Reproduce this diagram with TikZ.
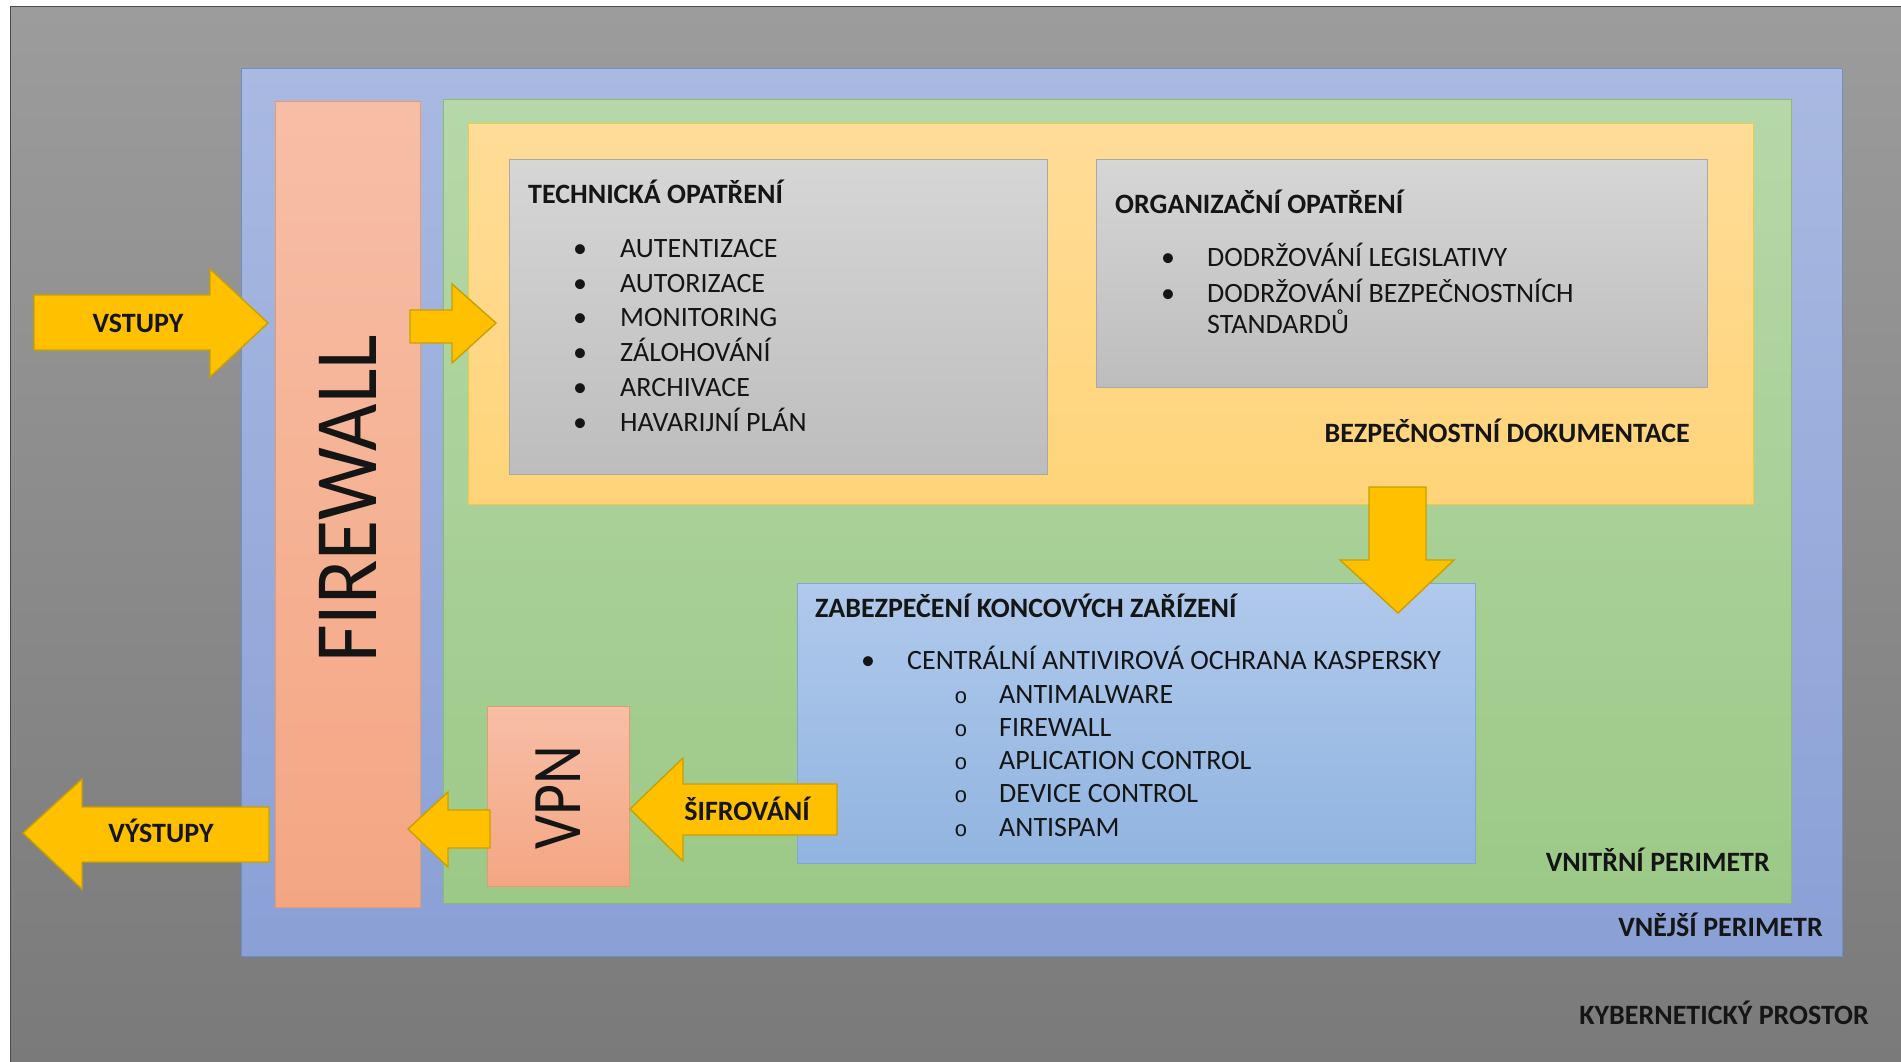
\documentclass[tikz,border=0pt]{standalone}
\usepackage{fontspec}
\setmainfont{Carlito}
\newfontfamily\circfont{Liberation Mono}
\usetikzlibrary{calc}

% palette
\definecolor{bgTop}{HTML}{9C9C9C}
\definecolor{bgBot}{HTML}{7A7A7A}
\definecolor{bgLine}{HTML}{4A4A4A}
\definecolor{blueTop}{HTML}{A9B9E1}
\definecolor{blueBot}{HTML}{8AA0D6}
\definecolor{blueLine}{HTML}{6F8FC9}
\definecolor{fwTop}{HTML}{F7BEA6}
\definecolor{fwBot}{HTML}{F4A683}
\definecolor{fwLine}{HTML}{E59A70}
\definecolor{greenTop}{HTML}{B6D8A9}
\definecolor{greenBot}{HTML}{9CC987}
\definecolor{greenLine}{HTML}{89BC72}
\definecolor{yelTop}{HTML}{FFDC98}
\definecolor{yelBot}{HTML}{FFD479}
\definecolor{yelLine}{HTML}{F5C842}
\definecolor{greyTop}{HTML}{D6D6D6}
\definecolor{greyBot}{HTML}{BDBDBD}
\definecolor{greyLine}{HTML}{A8A8A8}
\definecolor{epTop}{HTML}{B0C9EC}
\definecolor{epBot}{HTML}{91B4E0}
\definecolor{epLine}{HTML}{7FA6D8}
\definecolor{arrowFill}{HTML}{FFC000}
\definecolor{arrowLine}{HTML}{C9A000}
\definecolor{ink}{HTML}{151515}

\tikzset{
  panel/.style={rectangle, inner sep=0pt, anchor=north west, line width=1.2pt},
  blockarrow/.style={fill=arrowFill, draw=arrowLine, line width=1.4pt, line join=miter},
  lbl/.style={font=\fontsize{28}{34}\selectfont, text=ink, inner sep=0pt, anchor=base west},
  ttl/.style={font=\bfseries\fontsize{28}{33}\selectfont, text=ink, inner sep=0pt, anchor=base west},
  dot/.style={font=\fontsize{28}{30}\selectfont, text=ink, inner sep=0pt, anchor=base},
  circ/.style={font=\circfont\fontsize{22}{26}\selectfont, text=ink, inner sep=0pt, anchor=base},
  bigword/.style={font=\fontsize{81}{90}\selectfont, text=ink, inner sep=0pt, rotate=90},
}

\begin{document}
\begin{tikzpicture}[x=1pt, y=-1pt]
\useasboundingbox (0,0) rectangle (1901,1062);
\fill[white] (0,0) rectangle (1901,1062);

% cyber space
\node[panel, minimum width=1891pt, minimum height=1056pt, top color=bgTop, bottom color=bgBot, draw=bgLine] (space) at (10,6) {};

% outer perimeter
\node[panel, minimum width=1601pt, minimum height=888pt, top color=blueTop, bottom color=blueBot, draw=blueLine] (outer) at (241,68) {};

% firewall column
\node[panel, minimum width=145pt, minimum height=806pt, top color=fwTop, bottom color=fwBot, draw=fwLine] (fw) at (275,101) {};

% inner perimeter
\node[panel, minimum width=1348pt, minimum height=804pt, top color=greenTop, bottom color=greenBot, draw=greenLine] (inner) at (443,99) {};

% security documentation
\node[panel, minimum width=1285pt, minimum height=381pt, top color=yelTop, bottom color=yelBot, draw=yelLine] (doc) at (468,123) {};

% technical measures
\node[panel, minimum width=538pt, minimum height=315pt, top color=greyTop, bottom color=greyBot, draw=greyLine] (tech) at (509,159) {};

% organisational measures
\node[panel, minimum width=611pt, minimum height=228pt, top color=greyTop, bottom color=greyBot, draw=greyLine] (org) at (1096,159) {};

% endpoint protection
\node[panel, minimum width=678pt, minimum height=280pt, top color=epTop, bottom color=epBot, draw=epLine] (ep) at (797,583) {};

% VPN block
\node[panel, minimum width=142pt, minimum height=180pt, top color=fwTop, bottom color=fwBot, draw=fwLine] (vpn) at (487,706) {};

% vertical words
\node[bigword] (fwtext) at (fw.center |- 0,499) {\scalebox{1.01}[1.1]{FIREWALL}};
\node[bigword, font=\fontsize{60}{66}\selectfont] (vpntext) at (vpn.center |- 0,798) {\scalebox{1}[1.16]{VPN}};

% block arrows
% inputs
\draw[blockarrow] (34,295) -- (210,295) -- (210,269) -- (268,323) -- (210,377) -- (210,350) -- (34,350) -- cycle;
% firewall -> technical measures
\draw[blockarrow] (410,310) -- (452,310) -- (452,284) -- (496,323) -- (452,363) -- (452,343) -- (410,343) -- cycle;
% documentation -> endpoints
\draw[blockarrow] (1369,487) -- (1426,487) -- (1426,560) -- (1454,560) -- (1398,613) -- (1340,560) -- (1369,560) -- cycle;
% encryption -> VPN
\draw[blockarrow] (837,784) -- (683,784) -- (683,758) -- (630,809) -- (683,861) -- (683,835) -- (837,835) -- cycle;
% VPN -> firewall
\draw[blockarrow] (490,810) -- (448,810) -- (448,792) -- (408,829) -- (448,867) -- (448,848) -- (490,848) -- cycle;
% outputs
\draw[blockarrow] (269,807) -- (82,807) -- (82,779) -- (23,833) -- (82,889) -- (82,862) -- (269,862) -- cycle;

% arrow captions
\node[ttl, anchor=base] (inlbl) at (138,332) {VSTUPY};
\node[ttl, anchor=base] (outlbl) at (161,842) {VÝSTUPY};
\node[ttl, anchor=base] (enclbl) at (747,820) {ŠIFROVÁNÍ};

% technical measures list
\node[ttl] (techttl) at (528,204) {TECHNICKÁ OPATŘENÍ};
\foreach \y/\t [count=\i] in {257/AUTENTIZACE, 292/AUTORIZACE, 326/MONITORING, 361/ZÁLOHOVÁNÍ, 396/ARCHIVACE, 431/HAVARIJNÍ PLÁN}{
  \node[dot] (tb\i) at (580,\y) {•};
  \node[lbl] (ti\i) at (620,\y) {\t};
}

% organisational measures list
\node[ttl] (orgttl) at (1115,213) {ORGANIZAČNÍ OPATŘENÍ};
\node[dot] (ob1) at (1168,266) {•};
\node[lbl] (oi1) at (1207,266) {DODRŽOVÁNÍ LEGISLATIVY};
\node[dot] (ob2) at (1168,302) {•};
\node[lbl] (oi2) at (1207,302) {DODRŽOVÁNÍ BEZPEČNOSTNÍCH};
\node[lbl] (oi3) at (1207,333) {STANDARDŮ};

\node[ttl, anchor=base east] (docttl) at (1690,442) {BEZPEČNOSTNÍ DOKUMENTACE};

% endpoint protection list
\node[ttl] (epttl) at (815,617) {ZABEZPEČENÍ KONCOVÝCH ZAŘÍZENÍ};
\node[dot] (eb) at (868,669) {•};
\node[lbl] (ei) at (907,669) {CENTRÁLNÍ ANTIVIROVÁ OCHRANA KASPERSKY};
\foreach \y/\t [count=\i] in {703/ANTIMALWARE, 736/FIREWALL, 769/APLICATION CONTROL, 802/DEVICE CONTROL, 836/ANTISPAM}{
  \node[circ] (sb\i) at (961,\y) {o};
  \node[lbl] (si\i) at (999,\y) {\t};
}

% zone captions
\node[ttl, anchor=base east] (innerttl) at (1770,871) {VNITŘNÍ PERIMETR};
\node[ttl, anchor=base east] (outerttl) at (1823,936) {VNĚJŠÍ PERIMETR};
\node[ttl, anchor=base east] (spacettl) at (1869,1024) {KYBERNETICKÝ PROSTOR};
\end{tikzpicture}
\end{document}
